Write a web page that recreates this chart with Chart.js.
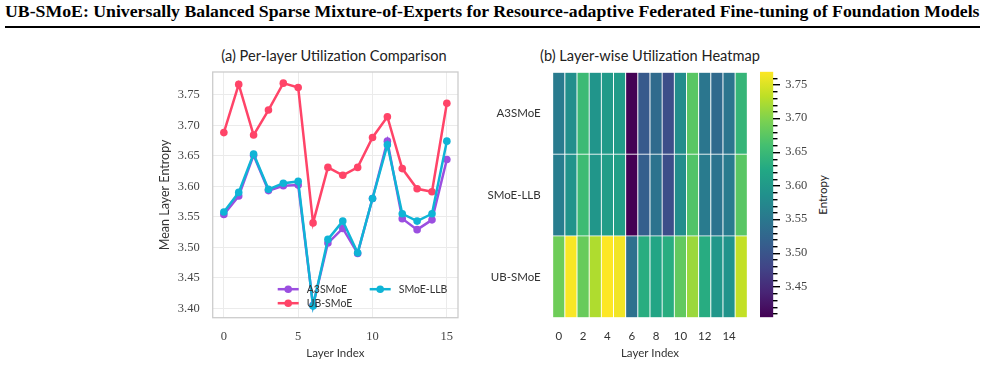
<!DOCTYPE html>
<html>
<head>
<meta charset="utf-8">
<script src="https://cdn.jsdelivr.net/npm/chart.js@4.4.1/dist/chart.umd.min.js"></script>
<style>
  body { margin: 0; width: 985px; height: 366px; background: #fff; position: relative; overflow: hidden; }
  .abs { position: absolute; }
  #header { left: 5px; top: 3px; font: bold 17px "Liberation Serif", serif; line-height: 1; white-space: nowrap; transform-origin: 0 0; color: #000; }
  #rule { left: 5px; top: 26px; width: 975px; height: 2px; background: #000; }
  .sub { top: 47px; font: 14.6px Lato, sans-serif; color: #222; white-space: nowrap; transform: translateX(-50%); }
  #cbLabel { left: 822px; top: 195px; font: 11.5px Lato, sans-serif; color: #222; transform: translate(-50%, -50%) rotate(-90deg); white-space: nowrap; }
</style>
</head>
<body>
<div id="header" class="abs">UB-SMoE: Universally Balanced Sparse Mixture-of-Experts for Resource-adaptive Federated Fine-tuning of Foundation Models</div>
<div id="rule" class="abs"></div>
<div class="abs sub" style="left:334px">(a) Per-layer Utilization Comparison</div>
<div class="abs sub" style="left:650px">(b) Layer-wise Utilization Heatmap</div>
<div id="cbLabel" class="abs">Entropy</div>
<canvas id="lineChart" class="abs" width="320" height="326" style="left:150px;top:40px"></canvas>
<canvas id="heatChart" class="abs" width="280" height="326" style="left:480px;top:40px"></canvas>
<canvas id="cbChart" class="abs" width="90" height="326" style="left:750px;top:40px"></canvas>
<script>
// ---- data ----
const layers = [0, 1, 2, 3, 4, 5, 6, 7, 8, 9, 10, 11, 12, 13, 14, 15];
const a3smoe = [3.554, 3.584, 3.651, 3.593, 3.601, 3.602, 3.405, 3.507, 3.531, 3.490, 3.580, 3.674, 3.547, 3.529, 3.545, 3.644];
const smoeLlb = [3.558, 3.590, 3.653, 3.595, 3.605, 3.608, 3.404, 3.513, 3.543, 3.491, 3.580, 3.668, 3.555, 3.543, 3.555, 3.674];
const ubSmoe = [3.688, 3.767, 3.684, 3.725, 3.769, 3.762, 3.540, 3.631, 3.618, 3.631, 3.680, 3.714, 3.629, 3.596, 3.591, 3.736];
const methods = ['A3SMoE', 'SMoE-LLB', 'UB-SMoE'];
const yTicks = [3.40, 3.45, 3.50, 3.55, 3.60, 3.65, 3.70, 3.75];
const xTicks = [0, 5, 10, 15];
const cbTicks = [3.45, 3.50, 3.55, 3.60, 3.65, 3.70, 3.75];

const seriesColors = { 'A3SMoE': '#9b4fe0', 'SMoE-LLB': '#0fb4d6', 'UB-SMoE': '#ff4468' };
const sansFont = 'Lato, sans-serif';
const serifFont = '"Liberation Serif", serif';

// fit the header to the page width
const hdr = document.getElementById('header');
hdr.style.transform = 'scaleX(' + (975 / hdr.scrollWidth) + ')';

// viridis colormap
const viridisStops = ['#440154', '#482475', '#414487', '#355f8d', '#2a788e', '#21918c', '#22a884', '#44bf70', '#7ad151', '#bddf26', '#fde725'];
function hexRgb(h) {
    return [parseInt(h.slice(1, 3), 16), parseInt(h.slice(3, 5), 16), parseInt(h.slice(5, 7), 16)];
}
function viridis(t) {
    t = Math.min(1, Math.max(0, t));
    const p = t * (viridisStops.length - 1);
    const i = Math.min(viridisStops.length - 2, Math.floor(p));
    const f = p - i;
    const a = hexRgb(viridisStops[i]), b = hexRgb(viridisStops[i + 1]);
    const c = a.map((v, k) => Math.round(v + (b[k] - v) * f));
    return 'rgb(' + c.join(',') + ')';
}

// ---- (a) line chart ----
const frame = {
    id: 'frame',
    beforeDatasetsDraw(chart) {
        const a = chart.chartArea, c = chart.ctx;
        c.save();
        c.strokeStyle = '#cccccc';
        c.lineWidth = 1.3;
        c.strokeRect(a.left, a.top, a.right - a.left, a.bottom - a.top);
        c.restore();
    }
};

// legend inside the axes, two columns like the figure
const innerLegend = {
    id: 'innerLegend',
    afterDatasetsDraw(chart) {
        const a = chart.chartArea, c = chart.ctx;
        const slots = [[65, -28.5], [65, -14.5], [157, -28.5]];
        c.save();
        c.font = '10.5px ' + sansFont;
        c.textBaseline = 'middle';
        chart.data.datasets.forEach((ds, i) => {
            const x = a.left + slots[i][0], y = a.bottom + slots[i][1];
            c.strokeStyle = ds.borderColor;
            c.lineWidth = 2.5;
            c.beginPath();
            c.moveTo(x, y);
            c.lineTo(x + 21, y);
            c.stroke();
            c.fillStyle = ds.borderColor;
            c.beginPath();
            c.arc(x + 10.5, y, 3.8, 0, Math.PI * 2);
            c.fill();
            c.fillStyle = '#333';
            c.fillText(ds.label, x + 29, y);
        });
        c.restore();
    }
};

const lineOrder = ['A3SMoE', 'UB-SMoE', 'SMoE-LLB'];
const lineValues = { 'A3SMoE': a3smoe, 'SMoE-LLB': smoeLlb, 'UB-SMoE': ubSmoe };

new Chart(document.getElementById('lineChart'), {
    type: 'line',
    data: {
        datasets: lineOrder.map((name, i) => ({
            label: name,
            data: layers.map((x, k) => ({ x: x, y: lineValues[name][k] })),
            borderColor: seriesColors[name],
            backgroundColor: seriesColors[name],
            borderWidth: 2.5,
            pointRadius: 3.8,
            pointBorderWidth: 0,
            tension: 0,
            order: name === 'SMoE-LLB' ? 0 : 2 - i
        }))
    },
    options: {
        responsive: false,
        animation: false,
        devicePixelRatio: 1,
        layout: { padding: { left: 0, top: 32, right: 12, bottom: 0 } },
        plugins: { legend: { display: false }, tooltip: { enabled: false } },
        scales: {
            x: {
                type: 'linear',
                min: -0.75,
                max: 15.75,
                afterBuildTicks: s => { s.ticks = xTicks.map(v => ({ value: v })); },
                afterFit: s => { s.height = 48.3; },
                grid: { color: '#ebebeb', lineWidth: 1, drawTicks: false },
                border: { display: false },
                ticks: { color: '#444', font: { family: serifFont, size: 12.5 }, padding: 12 },
                title: { display: true, text: 'Layer Index', color: '#333', font: { family: sansFont, size: 11.5 }, padding: { top: 6, bottom: 6 } }
            },
            y: {
                min: 3.3847,
                max: 3.7873,
                afterBuildTicks: s => { s.ticks = yTicks.map(v => ({ value: v })); },
                afterFit: s => { s.width = 62.7; },
                grid: { color: '#ebebeb', lineWidth: 1, drawTicks: false },
                border: { display: false },
                ticks: { color: '#444', font: { family: serifFont, size: 12.5 }, padding: 13, callback: v => v.toFixed(2) },
                title: { display: true, text: 'Mean Layer Entropy', color: '#333', font: { family: sansFont, size: 12.5 }, padding: { top: 7, bottom: 0 } }
            }
        }
    },
    plugins: [frame, innerLegend]
});

// ---- (b) heatmap ----
const heatValues = [a3smoe, smoeLlb, ubSmoe];
const allValues = heatValues.flat();
const vmin = Math.min(...allValues);
const vmax = Math.max(...allValues);

new Chart(document.getElementById('heatChart'), {
    type: 'bar',
    data: {
        labels: layers.map(String),
        datasets: methods.map((name, r) => ({
            label: name,
            data: layers.map(() => 1),
            backgroundColor: heatValues[r].map(v => viridis((v - vmin) / (vmax - vmin))),
            borderColor: '#ffffff',
            borderWidth: 0.8,
            borderSkipped: false,
            barPercentage: 1,
            categoryPercentage: 1
        }))
    },
    options: {
        responsive: false,
        animation: false,
        devicePixelRatio: 1,
        layout: { padding: { left: 0, top: 32.3, right: 12.7, bottom: 0 } },
        plugins: { legend: { display: false }, tooltip: { enabled: false } },
        scales: {
            x: {
                stacked: true,
                afterFit: s => { s.height = 48.3; },
                grid: { display: false, drawTicks: false },
                border: { display: false },
                ticks: {
                    autoSkip: false, maxRotation: 0, color: '#333', padding: 12,
                    font: { family: sansFont, size: 11.5 },
                    callback: (v, i) => i % 2 === 0 ? String(layers[i]) : ''
                },
                title: { display: true, text: 'Layer Index', color: '#333', font: { family: sansFont, size: 11.5 }, padding: { top: 6, bottom: 6 } }
            },
            y: {
                stacked: true,
                reverse: true,
                min: 0,
                max: 3,
                afterBuildTicks: s => { s.ticks = methods.map((m, i) => ({ value: i + 0.5 })); },
                afterFit: s => { s.width = 72.7; },
                grid: { display: false, drawTicks: false },
                border: { display: false },
                ticks: { color: '#333', padding: 12, font: { family: sansFont, size: 11.5 }, callback: v => methods[Math.floor(v)] }
            }
        }
    }
});

// ---- colorbar ----
const minorTicks = [];
for (let v = Math.ceil(vmin * 100); v <= Math.floor(vmax * 100); v++) minorTicks.push(v / 100);
const isMajor = v => cbTicks.some(t => Math.abs(t - v) < 1e-6);

// major / minor tick marks on the right edge of the colour bar
const cbTickMarks = {
    id: 'cbTickMarks',
    afterDraw(chart) {
        const s = chart.scales.y, c = chart.ctx;
        const x0 = Math.round(chart.chartArea.right);
        c.save();
        c.fillStyle = '#000';
        minorTicks.forEach(v => {
            const y = Math.round(s.getPixelForValue(v));
            c.fillRect(x0, y, isMajor(v) ? 7 : 4.5, 1.4);
        });
        c.restore();
    }
};

new Chart(document.getElementById('cbChart'), {
    type: 'bar',
    data: {
        labels: ['Entropy'],
        datasets: [{
            data: [[vmin, vmax]],
            barPercentage: 1,
            categoryPercentage: 1,
            borderWidth: 0,
            backgroundColor: ctx => {
                const area = ctx.chart.chartArea;
                if (!area) return '#21918c';
                const g = ctx.chart.ctx.createLinearGradient(0, area.bottom, 0, area.top);
                viridisStops.forEach((c, i) => g.addColorStop(i / (viridisStops.length - 1), c));
                return g;
            }
        }]
    },
    options: {
        responsive: false,
        animation: false,
        devicePixelRatio: 1,
        layout: { padding: { left: 10, top: 31.7, right: 6.7, bottom: 48.7 } },
        plugins: { legend: { display: false }, tooltip: { enabled: false } },
        scales: {
            x: { display: false },
            y: {
                position: 'right',
                min: vmin,
                max: vmax,
                afterBuildTicks: s => { s.ticks = minorTicks.map(v => ({ value: v })); },
                afterFit: s => { s.width = 60; },
                grid: { drawOnChartArea: false, drawTicks: false },
                border: { display: false },
                ticks: {
                    color: '#444', padding: 12, autoSkip: false,
                    font: { family: serifFont, size: 12.5 },
                    callback: v => isMajor(v) ? v.toFixed(2) : ''
                }
            }
        }
    },
    plugins: [cbTickMarks]
});
</script>
</body>
</html>
